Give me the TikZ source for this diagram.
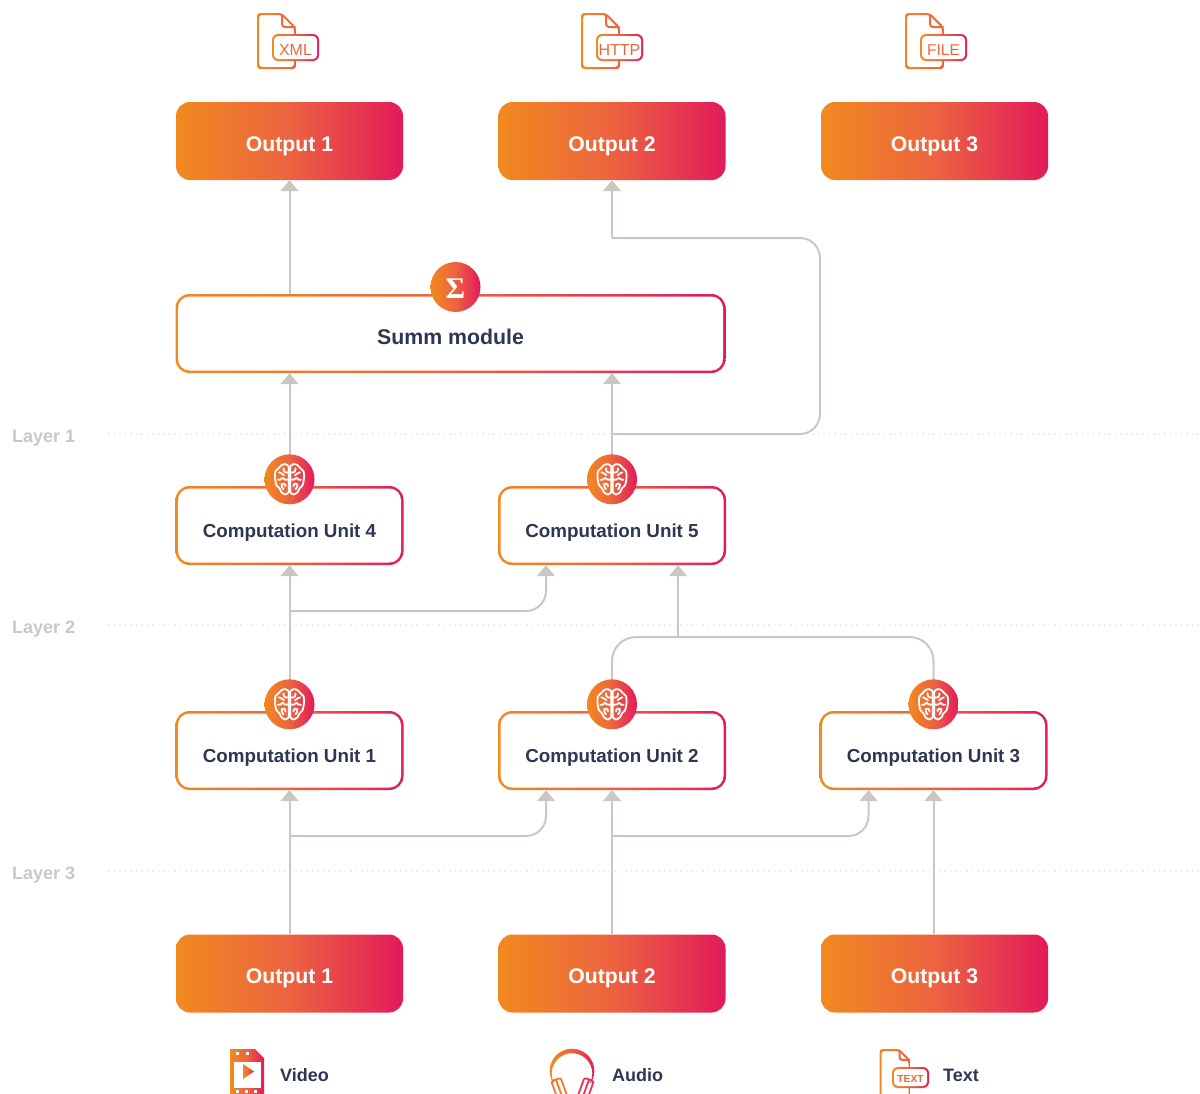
\documentclass[tikz,border=0pt]{standalone}
\usepackage{fontspec}
\setmainfont{Liberation Sans}
\newfontfamily\sigmafont{Liberation Serif}
\usetikzlibrary{arrows.meta}

\definecolor{gradl}{HTML}{F18A1F}
\definecolor{gradm}{HTML}{EC6340}
\definecolor{gradr}{HTML}{E21A5A}
\definecolor{linegray}{HTML}{C9C7BF}
\definecolor{dottedgray}{HTML}{EDEDE6}
\definecolor{layergray}{HTML}{C9C8C2}
\definecolor{darktext}{HTML}{2E3654}

\tikzset{
  gradfill/.style={left color=gradl, right color=gradr, middle color=gradm},
  gradring/.style 2 args={gradfill, rounded corners=#1,
    path picture={\fill[white, rounded corners=#1-#2]
      ([shift={(#2,#2)}]path picture bounding box.north west) rectangle
      ([shift={(-#2,-#2)}]path picture bounding box.south east);}},
  outbox/.style={gradfill, rounded corners=14, minimum width=227, minimum height=78, inner sep=0,
    text=white, text height=20, text depth=0, font=\bfseries\fontsize{21.2}{21}\selectfont},
  unitbox/.style={gradring={14}{2.5}, minimum width=228, minimum height=79, inner sep=0,
    text=darktext, text height=23, text depth=0, font=\bfseries\fontsize{18.8}{19}\selectfont},
  summbox/.style={unitbox, minimum width=550, text height=21, font=\bfseries\fontsize{21.3}{21}\selectfont},
  badge/.style={gradfill, circle, minimum size=50, inner sep=0},
  iconlabel/.style={gradring={6}{2}, inner sep=0, text=gradm!90!gradl, text depth=0},
  icontext/.style={anchor=base west, inner sep=0, text=darktext, font=\bfseries\fontsize{18}{18}\selectfont},
  layertext/.style={anchor=base west, inner sep=0, text=layergray, font=\bfseries\fontsize{18}{18}\selectfont},
  layerline/.style={dottedgray, line width=1.2, dash pattern=on 1.5 off 4},
  conn/.style={linegray, line width=2},
  brainicon/.pic={
    \foreach \s in {1,-1}
    {
      \draw[white, line width=1.8, line cap=round, line join=round, xscale=\s]
        plot[smooth] coordinates {(0.8,-13)(4,-15.2)(8,-14.2)(11,-11)(14,-8)(14.6,-3)(14,2)(13,6)(10,9)(8,13)(4,15.2)(0.8,13)}
        (0.8,-13)--(0.8,13)
        (0.8,-7) .. controls (5,-6) and (6,-8) .. (6,-11)
        (5.5,-4) .. controls (7,-6) and (9,-6) .. (10.5,-7)
        (0.8,0) .. controls (4,1) and (6,0) .. (7,-1.5)
        (7,-1.5) .. controls (8,0) and (10,1) .. (11.5,0.5)
        (4,7) .. controls (4,4) and (7,3.5) .. (8,5)
        (8,5) .. controls (8,7) and (7,9) .. (6,10);
    }
  }
}

\newcommand{\fileicon}[5]{
  \shade[even odd rule, left color=gradl, right color=gradm, rounded corners=3]
    (#1,#2)--(#1+#3-#5,#2)--(#1+#3,#2+#5)--(#1+#3,#2+#4)--(#1,#2+#4)--cycle
    (#1+2,#2+2)--(#1+#3-#5-.8,#2+2)--(#1+#3-2,#2+#5+.8)--(#1+#3-2,#2+#4-2)--(#1+2,#2+#4-2)--cycle;
  \draw[gradm!85!gradl, line width=2, rounded corners=3] (#1+#3-#5,#2+1) |- (#1+#3-.5,#2+#5);
}

\begin{document}
\begin{tikzpicture}[x=1pt, y=-1pt, >={Triangle[width=18pt,length=11pt]}]
\useasboundingbox (0,0) rectangle (1200,1093);
\clip (0,0) rectangle (1200,1093);

\foreach \n/\y in {1/434,2/625,3/871}
{
    \node (layer\n) at (12,\y+8)[layertext]{Layer \n};
    \coordinate (guide\n) at (1200,\y);
    \draw[layerline] (108,\y)--(guide\n);
}

\node (out1) at (289.5,141)[outbox]{Output 1};
\node (out2) at (612,141)[outbox]{Output 2};
\node (out3) at (934.5,141)[outbox]{Output 3};
\node (summ) at (450.5,333.5)[summbox]{Summ module};
\node (cu4) at (289.5,525.5)[unitbox]{Computation Unit 4};
\node (cu5) at (612,525.5)[unitbox]{Computation Unit 5};
\node (cu1) at (289.5,750.5)[unitbox]{Computation Unit 1};
\node (cu2) at (612,750.5)[unitbox]{Computation Unit 2};
\node (cu3) at (933.5,750.5)[unitbox]{Computation Unit 3};
\node (in1) at (289.5,973.5)[outbox]{Output 1};
\node (in2) at (612,973.5)[outbox]{Output 2};
\node (in3) at (934.5,973.5)[outbox]{Output 3};

% connectors
\coordinate (turn1) at (612,238);
\coordinate (turn2) at (820,434);
\coordinate (split1) at (289.5,836);
\coordinate (split2) at (612,836);
\coordinate (split3) at (289.5,611);
\coordinate (split4) at (612,434);
\coordinate (join1) at (678,637);

\draw[conn, ->] (in1.north)--(cu1.south);
\draw[conn, ->] (in2.north)--(cu2.south);
\draw[conn, ->] (in3.north -| cu3.south)--(cu3.south);
\draw[conn, ->, rounded corners=20] (split1)-|([xshift=-66]cu2.south);
\draw[conn, ->, rounded corners=20] (split2)-|([xshift=-65]cu3.south);
\draw[conn, ->] (cu1.north)--(cu4.south);
\draw[conn, ->, rounded corners=20] (split3)-|([xshift=-66]cu5.south);
\draw[conn, rounded corners=24] (cu2.north)|-(join1)-|(cu3.north);
\draw[conn, ->] (join1)--([xshift=66]cu5.south);
\draw[conn, ->] (cu4.north)--(cu4.north |- summ.south);
\draw[conn, ->] (cu5.north)--(cu5.north |- summ.south);
\draw[conn, ->] (out1.south |- summ.north)--(out1.south);
\draw[conn, ->] (turn1)--(out2.south);
\draw[conn, rounded corners=20] (split4)-|(turn2 |- turn1)--(turn1);

\foreach \n in {1,...,5}
{
    \node (badge\n) at ([yshift=6.5]cu\n.north)[badge]{};
    \pic at (badge\n){brainicon};
}
\node (sigma) at (455.5,287)[badge, text=white, text height=23, text depth=0, font=\sigmafont\bfseries\fontsize{30}{30}\selectfont]{Σ};

% top icons
\fileicon{257}{13}{39}{56}{14}
\fileicon{581}{13}{39}{56}{14}
\fileicon{905}{13}{39}{56}{14}
\node (xml) at (295.5,47.5)[iconlabel, minimum width=47, minimum height=27, text height=16, font=\fontsize{16}{16}\selectfont]{XML};
\node (http) at (619.5,47.5)[iconlabel, minimum width=47, minimum height=27, text height=16, font=\fontsize{16}{16}\selectfont]{HTTP};
\node (file) at (943.5,47.5)[iconlabel, minimum width=47, minimum height=27, text height=16, font=\fontsize{15.6}{16}\selectfont]{FILE};

% video icon
\shade[gradfill] (230,1049)--(255,1049)--(264,1058)--(264,1097)--(230,1097)--cycle;
\fill[white] (233.5,1062) rectangle (261,1088);
\foreach \x in {237,247}
{
    \fill[white] (\x-1.5,1051.5) rectangle (\x+1.5,1054.5);
}
\foreach \x in {237,246,255}
{
    \fill[white] (\x-1.5,1089.5) rectangle (\x+1.5,1092.5);
}
\shade[gradfill] (243,1064)--(254,1071.5)--(243,1079)--cycle;
\node (video) at (280,1081)[icontext]{Video};

% audio icon
\begin{scope}
\clip (540,1040) rectangle (600,1082);
\shade[even odd rule, gradfill] (572,1071) circle (22.3) (572,1073.5) circle (20.3);
\end{scope}
\foreach \x/\r/\c in {559/20/gradl!60!gradm,586/-20/gradm!40!gradr}
{
    \draw[\c, line width=1.8, rounded corners=2, rotate around={\r:(\x,1088)}]
      (\x-5,1079)--(\x+5,1079)--(\x+5,1100)--(\x-5,1100)--cycle
      (\x,1079)--(\x,1100);
}
\node (audio) at (612,1081)[icontext]{Audio};

% text icon
\fileicon{879.5}{1049}{31}{62}{11}
\node (textlabel) at (910.5,1077.5)[iconlabel, minimum width=37, minimum height=21, text height=10, font=\bfseries\fontsize{10.2}{10}\selectfont]{TEXT};
\node (text) at (943,1081)[icontext]{Text};
\end{tikzpicture}
\end{document}
